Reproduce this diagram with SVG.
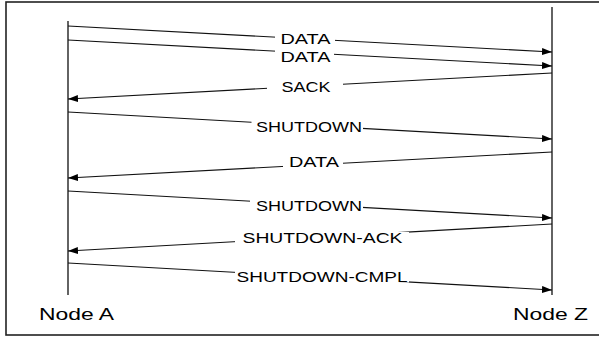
<svg xmlns="http://www.w3.org/2000/svg" width="599" height="337" viewBox="0 0 599 337">
<defs>
<style>
.frame{fill:#fff;stroke:#222;stroke-width:1.6}
.life{stroke:#222;stroke-width:1.4;fill:none}
.msg{stroke:#111;stroke-width:1.1;fill:none;marker-end:url(#ah)}
.lbl{font-family:"Liberation Sans",Arial,sans-serif;font-size:15px;fill:#000}
.node{font-family:"Liberation Sans",Arial,sans-serif;font-size:16px;fill:#000}
.bg{fill:#fff}
</style>
<marker id="ah" markerUnits="userSpaceOnUse" markerWidth="11" markerHeight="8" refX="10" refY="3.5" orient="auto">
<path d="M0,0 L10,3.5 L0,7 Z" fill="#000"/>
</marker>
</defs>
<rect class="frame" x="6" y="2" width="600" height="333"/>
<g id="nodeA">
<line class="life" x1="68" y1="21" x2="68" y2="295"/>
<text class="node" x="39" y="319.5" textLength="75" lengthAdjust="spacingAndGlyphs">Node A</text>
</g>
<g id="nodeZ">
<line class="life" x1="552" y1="7" x2="552" y2="295"/>
<text class="node" x="513" y="319.5" textLength="75" lengthAdjust="spacingAndGlyphs">Node Z</text>
</g>
<g id="connectors">
<line class="msg" x1="68" y1="26" x2="552" y2="52"/>
<line class="msg" x1="68" y1="40" x2="552" y2="66"/>
<line class="msg" x1="552" y1="73" x2="68" y2="99"/>
<line class="msg" x1="68" y1="112" x2="552" y2="139"/>
<line class="msg" x1="552" y1="152" x2="68" y2="178"/>
<line class="msg" x1="68" y1="191" x2="552" y2="218"/>
<line class="msg" x1="552" y1="224" x2="68" y2="251"/>
<line class="msg" x1="68" y1="263" x2="552" y2="290"/>
</g>
<g id="labels">
<rect class="bg" x="275" y="31" width="60" height="12"/>
<text class="lbl" x="280.5" y="43.5" textLength="50" lengthAdjust="spacingAndGlyphs">DATA</text>
<rect class="bg" x="275" y="50" width="59" height="12"/>
<text class="lbl" x="280.5" y="62" textLength="50" lengthAdjust="spacingAndGlyphs">DATA</text>
<rect class="bg" x="267" y="80" width="76" height="12"/>
<text class="lbl" x="281.5" y="91.7" textLength="49" lengthAdjust="spacingAndGlyphs">SACK</text>
<rect class="bg" x="251.5" y="120" width="111.5" height="12"/>
<text class="lbl" x="256" y="131.7" textLength="106" lengthAdjust="spacingAndGlyphs">SHUTDOWN</text>
<rect class="bg" x="283" y="155" width="60" height="12"/>
<text class="lbl" x="289" y="166.7" textLength="50" lengthAdjust="spacingAndGlyphs">DATA</text>
<rect class="bg" x="250" y="199" width="113" height="12"/>
<text class="lbl" x="256" y="210.7" textLength="106" lengthAdjust="spacingAndGlyphs">SHUTDOWN</text>
<rect class="bg" x="235" y="232" width="174" height="12"/>
<text class="lbl" x="242.5" y="243.3" textLength="160" lengthAdjust="spacingAndGlyphs">SHUTDOWN-ACK</text>
<rect class="bg" x="235" y="270" width="174" height="12.5"/>
<text class="lbl" x="236.5" y="282" textLength="171" lengthAdjust="spacingAndGlyphs">SHUTDOWN-CMPL</text>
</g>
</svg>
